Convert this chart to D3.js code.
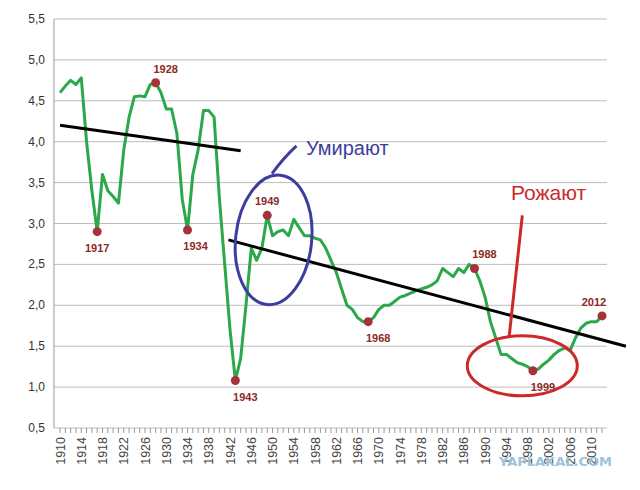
<!DOCTYPE html>
<html><head><meta charset="utf-8">
<script src="https://cdn.jsdelivr.net/npm/d3@7"></script>
<style>body{margin:0;background:#fff}</style></head>
<body><svg id="c" width="640" height="490"></svg>
<script>
const years = d3.range(1910, 2013);
const values = [4.6,4.68,4.75,4.7,4.78,4.0,3.4,2.9,3.6,3.4,3.33,3.25,3.9,4.3,4.55,4.56,4.55,4.7,4.72,4.6,
4.4,4.4,4.1,3.3,2.92,3.6,3.9,4.38,4.38,4.3,3.3,2.5,1.7,1.08,1.35,2.0,2.7,2.55,2.7,3.1,
2.85,2.9,2.92,2.85,3.05,2.95,2.85,2.85,2.82,2.8,2.7,2.55,2.4,2.2,2.0,1.95,1.85,1.8,1.8,1.85,
1.95,2.0,2.0,2.05,2.1,2.12,2.15,2.18,2.2,2.22,2.25,2.3,2.45,2.4,2.35,2.45,2.4,2.5,2.45,2.3,
2.1,1.8,1.6,1.4,1.4,1.35,1.3,1.28,1.25,1.2,1.22,1.28,1.33,1.4,1.45,1.48,1.45,1.6,1.72,1.78,
1.8,1.8,1.87];
const markedYears = [1917,1928,1934,1943,1949,1968,1988,1999,2012];
const yTicks = [0.5,1,1.5,2,2.5,3,3.5,4,4.5,5,5.5];
const xTickYears = d3.range(1910, 2013, 4);
const trend1 = [[1910,4.2],[1944,3.89]];
const trend2 = [[1941.7,2.8],[2016.5,1.5]];

const svg = d3.select("#c");
const x = d3.scalePoint().domain(years).range([60, 602]);
const step = x.step();
const y = d3.scaleLinear().domain([0.5,5.5]).range([428,19]);
const xc = v => x(1910) + (v-1910)*step;

svg.append("g").selectAll("line").data(yTicks).join("line")
  .attr("x1",54).attr("x2",607).attr("y1",d=>y(d)).attr("y2",d=>y(d))
  .attr("stroke","#bdbdbd").attr("stroke-width",1);
svg.append("g").selectAll("text").data(yTicks).join("text")
  .attr("x",45).attr("y",d=>y(d)+4).attr("text-anchor","end")
  .attr("font-family","Liberation Sans, Arial").attr("font-size",12).attr("fill","#333")
  .text(d=>d3.format(".1f")(d).replace(".",","));
svg.append("line").attr("x1",54).attr("x2",54).attr("y1",19).attr("y2",428).attr("stroke","#999");
svg.append("g").selectAll("line").data(years).join("line")
  .attr("x1",d=>x(d)).attr("x2",d=>x(d)).attr("y1",428).attr("y2",433).attr("stroke","#999");
svg.append("g").selectAll("text").data(xTickYears).join("text")
  .attr("transform",d=>`translate(${x(d)+4.5},437) rotate(-90)`).attr("text-anchor","end")
  .attr("font-family","Liberation Sans, Arial").attr("font-size",12.5).attr("fill","#444")
  .text(d=>d);

const line = d3.line().x((d,i)=>x(years[i])).y(d=>y(d));
svg.append("path").attr("d",line(values)).attr("fill","none")
  .attr("stroke","#2aa84a").attr("stroke-width",3).attr("stroke-linejoin","round");

const tl = d3.line().x(d=>xc(d[0])).y(d=>y(d[1]));
[trend1,trend2].forEach(t=>svg.append("path").attr("d",tl(t)).attr("stroke","#000").attr("stroke-width",3));

markedYears.forEach(yr=>{
  const v = values[yr-1910];
  svg.append("circle").attr("cx",x(yr)).attr("cy",y(v)).attr("r",4.5).attr("fill","#a8323a");
  const below = [1917,1934,1943,1968,1999].includes(yr);
  svg.append("text").attr("x",x(yr)+(yr===1934?8:yr===1943||yr===1968||yr===1999?10:yr===2012?-8:yr===1928?10:yr===1988?10:0))
    .attr("y",below? y(v)+20 : y(v)-10).attr("text-anchor","middle")
    .attr("font-family","Liberation Sans, Arial").attr("font-weight","bold").attr("font-size",11)
    .attr("fill","#8b2a2a").text(yr);
});

// annotations
svg.append("ellipse").attr("cx",xc(1950.2)).attr("cy",y(2.8)).attr("rx",38).attr("ry",65)
  .attr("transform",`rotate(6,${xc(1950.2)},${y(2.8)})`)
  .attr("fill","none").attr("stroke","#3d3d9e").attr("stroke-width",3);
svg.append("path").attr("d",`M${xc(1949.9)},${y(3.61)} Q${xc(1952)},${y(3.8)} ${xc(1954.5)},${y(3.95)}`)
  .attr("fill","none").attr("stroke","#3d3d9e").attr("stroke-width",3);
svg.append("text").attr("x",306).attr("y",155).attr("font-family","Liberation Sans, Arial")
  .attr("font-size",20).attr("fill","#3d3d9e").text("Умирают");
svg.append("ellipse").attr("cx",xc(1997)).attr("cy",y(1.26)).attr("rx",55).attr("ry",30)
  .attr("fill","none").attr("stroke","#cc2a2a").attr("stroke-width",3);
svg.append("line").attr("x1",xc(1994.5)).attr("y1",y(1.6)).attr("x2",xc(1997)).attr("y2",y(3.1))
  .attr("stroke","#cc2a2a").attr("stroke-width",3);
svg.append("text").attr("x",511).attr("y",200).attr("font-family","Liberation Sans, Arial")
  .attr("font-size",21).attr("fill","#cc2a2a").text("Рожают");
svg.append("text").attr("x",612).attr("y",466).attr("text-anchor","end").attr("font-family","DejaVu Sans")
  .attr("font-weight","bold").attr("font-size",13).attr("fill","#9ec3dc").text("YAPLAKAL.COM");
</script></body></html>
